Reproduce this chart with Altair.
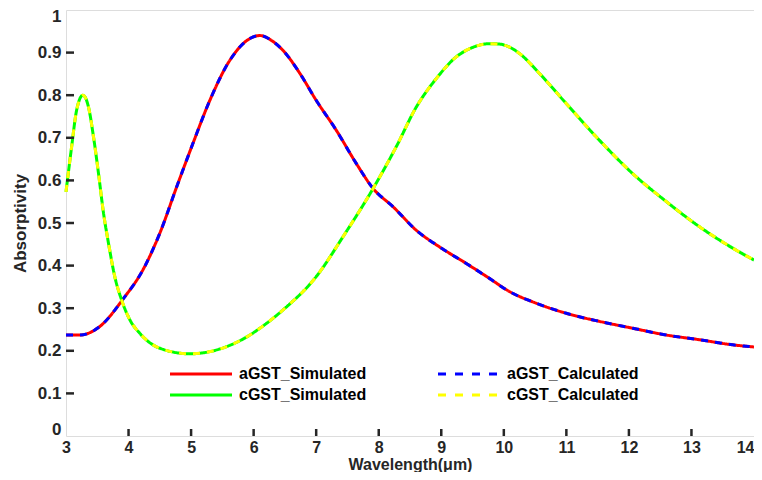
import altair as alt
import pandas as pd

# aGST curve (simulated and calculated coincide)
a_x = [3.0, 3.22, 3.54, 3.92, 4.23, 4.5, 4.77, 5.03, 5.3, 5.62, 5.94, 6.1, 6.3, 6.47, 6.74,
       7.0, 7.32, 7.64, 7.91, 8.23, 8.6, 8.97, 9.4, 9.77, 10.09, 10.46, 11.0, 11.53, 12.06,
       12.6, 13.13, 13.66, 14.0]
a_sim = [0.237, 0.237, 0.257, 0.323, 0.39, 0.476, 0.585, 0.687, 0.788, 0.882, 0.933, 0.94, 0.927,
         0.905, 0.851, 0.788, 0.718, 0.64, 0.581, 0.538, 0.483, 0.444, 0.405, 0.37, 0.339, 0.315,
         0.288, 0.269, 0.253, 0.237, 0.226, 0.214, 0.209]
a_calc = [0.237, 0.237, 0.257, 0.323, 0.39, 0.476, 0.585, 0.687, 0.788, 0.882, 0.933, 0.94, 0.927,
          0.905, 0.851, 0.788, 0.718, 0.64, 0.581, 0.538, 0.483, 0.444, 0.405, 0.37, 0.339, 0.315,
          0.288, 0.269, 0.253, 0.237, 0.226, 0.214, 0.209]

# cGST curve (simulated and calculated coincide)
c_x = [3.0, 3.09, 3.17, 3.27, 3.36, 3.44, 3.52, 3.6, 3.68, 3.78, 3.89, 4.02, 4.18, 4.5, 4.98,
       5.57, 5.94, 6.1, 6.47, 7.0, 7.43, 7.91, 8.28, 8.6, 8.92, 9.24, 9.5, 9.77, 9.93, 10.09,
       10.25, 10.57, 11.0, 11.53, 12.06, 12.6, 13.13, 13.66, 14.0]
c_sim = [0.573, 0.679, 0.765, 0.80, 0.772, 0.702, 0.616, 0.523, 0.452, 0.374, 0.319, 0.273, 0.241,
         0.206, 0.193, 0.21, 0.237, 0.253, 0.296, 0.374, 0.468, 0.581, 0.679, 0.772, 0.839, 0.89,
         0.912, 0.921, 0.92, 0.913, 0.898, 0.851, 0.78, 0.694, 0.616, 0.55, 0.491, 0.441, 0.413]
c_calc = [0.573, 0.679, 0.765, 0.80, 0.772, 0.702, 0.616, 0.523, 0.452, 0.374, 0.319, 0.273, 0.241,
          0.206, 0.193, 0.21, 0.237, 0.253, 0.296, 0.374, 0.468, 0.581, 0.679, 0.772, 0.839, 0.89,
          0.912, 0.921, 0.92, 0.913, 0.898, 0.851, 0.78, 0.694, 0.616, 0.55, 0.491, 0.441, 0.413]

series_names = ["aGST_Simulated", "aGST_Calculated", "cGST_Simulated", "cGST_Calculated"]
series_colors = ["#ff0000", "#0000ff", "#00ff00", "#ffff00"]
series_dash = [[1, 0], [7, 7], [1, 0], [7, 7]]

x_ticks = [3, 4, 5, 6, 7, 8, 9, 10, 11, 12, 13, 14]
y_ticks = [0, 0.1, 0.2, 0.3, 0.4, 0.5, 0.6, 0.7, 0.8, 0.9, 1]

rows = []
for name, xs, ys in [("aGST_Simulated", a_x, a_sim), ("aGST_Calculated", a_x, a_calc),
                     ("cGST_Simulated", c_x, c_sim), ("cGST_Calculated", c_x, c_calc)]:
    for i, (xv, yv) in enumerate(zip(xs, ys)):
        rows.append({"series": name, "wl": xv, "abs": yv, "i": i})
df = pd.DataFrame(rows)

W, H = 688, 426
FONT = "Liberation Sans"
INK = "#262626"

xscale = alt.Scale(domain=[3, 14], nice=False, zero=False)
yscale = alt.Scale(domain=[0, 1], nice=False)

lines = alt.Chart(df).mark_line(strokeWidth=3, interpolate="monotone").encode(
    x=alt.X("wl:Q", scale=xscale,
            axis=alt.Axis(title="Wavelength(μm)", values=x_ticks, format="d", ticks=False,
                          domain=False, grid=False, labelFlush=False, labelPadding=3,
                          labelAlign={"condition": {"test": "datum.value == 14", "value": "right"},
                                      "value": "center"},
                          labelFontSize=16, labelFontWeight="bold", titleFontSize=16,
                          titleFontWeight="bold", titleBaseline="alphabetic", titleY=33,
                          labelColor=INK, titleColor=INK, labelFont=FONT, titleFont=FONT)),
    y=alt.Y("abs:Q", scale=yscale,
            axis=alt.Axis(title="Absorptivity", values=y_ticks, ticks=False, domain=False,
                          grid=False, labelPadding=5, labelFontSize=17, labelFontWeight="bold",
                          labelFlush=True, labelFlushOffset=2,
                          titleFontSize=17, titleFontWeight="bold", titlePadding=8,
                          labelColor=INK, titleColor=INK, labelFont=FONT, titleFont=FONT,
                          labelExpr="datum.value == 0 ? '0' : datum.value == 1 ? '1' : format(datum.value, '.1f')")),
    color=alt.Color("series:N", scale=alt.Scale(domain=series_names, range=series_colors),
                    legend=None),
    strokeDash=alt.StrokeDash("series:N", scale=alt.Scale(domain=series_names, range=series_dash),
                              legend=None),
    detail="series:N",
    order="i:Q",
)

xt = pd.DataFrame({"v": x_ticks[1:-1]})
yt = pd.DataFrame({"v": y_ticks[1:-1]})
xtick_rules = alt.Chart(xt).mark_rule(color=INK, strokeWidth=2.5).encode(
    x=alt.X("v:Q", scale=xscale), y=alt.value(H), y2=alt.value(H - 7))
ytick_rules = alt.Chart(yt).mark_rule(color=INK, strokeWidth=2.5).encode(
    y=alt.Y("v:Q", scale=yscale), x=alt.value(0), x2=alt.value(8))

# manual legend (2 columns x 2 rows, inside the plot area)
one = pd.DataFrame({"k": [0]})
legend_layers = []
leg_col_x = [104, 372]      # symbol start of each column (px from plot left)
leg_row_y = [364, 385]      # row centre (px from plot top)
sym_len, lab_gap = 62, 7
legend_slots = [("aGST_Simulated", 0, 0), ("aGST_Calculated", 1, 0),
                ("cGST_Simulated", 0, 1), ("cGST_Calculated", 1, 1)]
for name, col, row in legend_slots:
    k = series_names.index(name)
    dash = [8, 9] if series_dash[k][1] else [1, 0]
    x0 = leg_col_x[col]
    yv = leg_row_y[row]
    legend_layers.append(
        alt.Chart(one).mark_rule(color=series_colors[k], strokeWidth=3, strokeDash=dash).encode(
            x=alt.value(x0), x2=alt.value(x0 + sym_len), y=alt.value(yv)))
    legend_layers.append(
        alt.Chart(one).mark_text(text=name, align="left", baseline="middle", font=FONT,
                                 fontSize=16, fontWeight="bold", color="#000000").encode(
            x=alt.value(x0 + sym_len + lab_gap), y=alt.value(yv)))

chart = alt.layer(lines, xtick_rules, ytick_rules, *legend_layers).properties(
    width=W, height=H,
    autosize=alt.AutoSizeParams(type="none"),
    padding={"left": 58, "top": 2, "right": 0, "bottom": 36},
).configure_view(stroke=INK, strokeWidth=3).configure(background="white")

chart.save("out.html", embed_options={"renderer": "svg", "actions": False})
